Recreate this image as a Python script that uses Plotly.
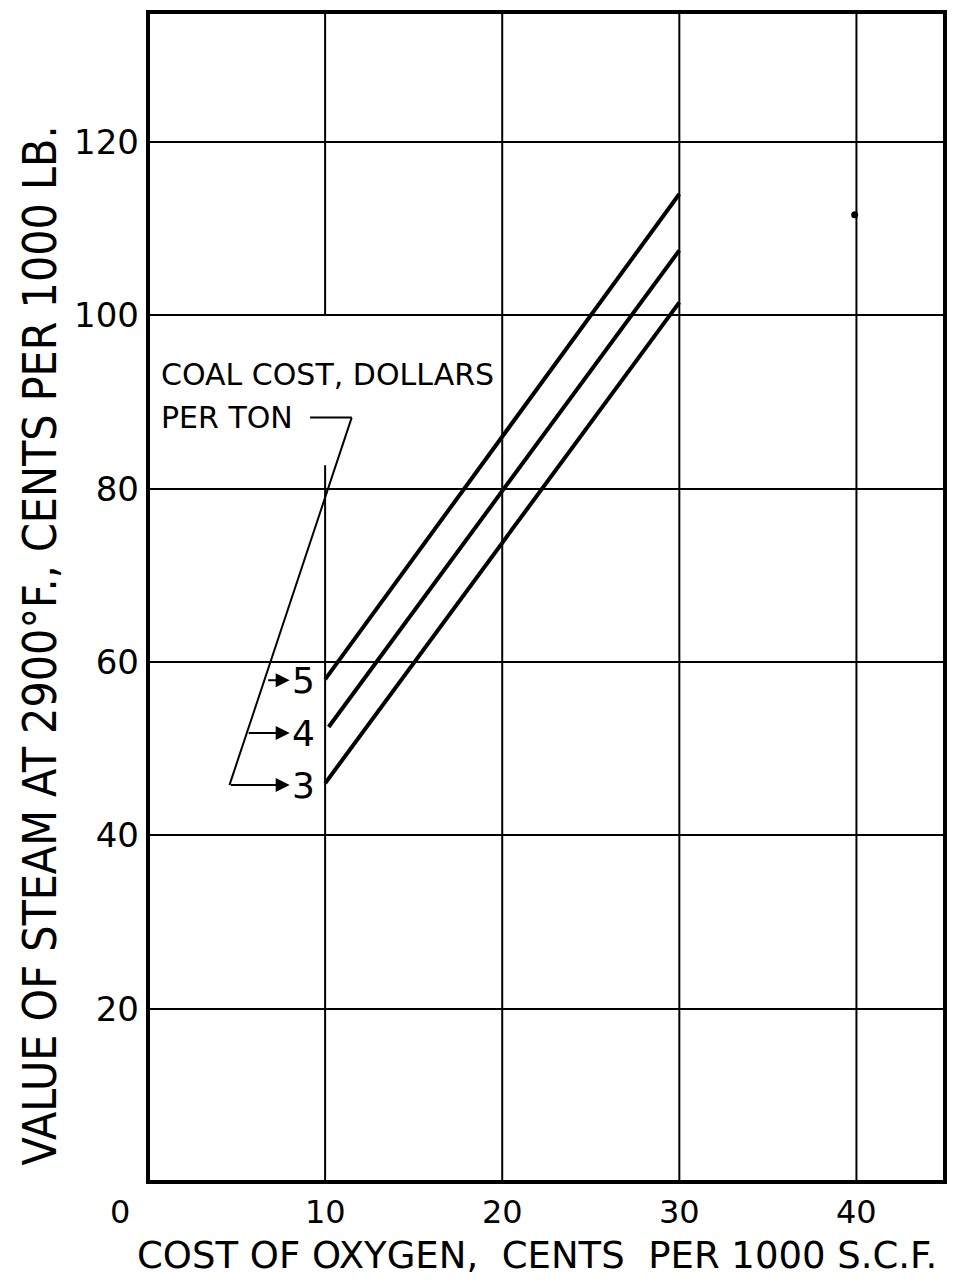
import plotly.graph_objects as go

# Cost of oxygen (cents per 1000 s.c.f.) at the two ends of each line
oxygen_cost_5 = [10.0, 30.0]
oxygen_cost_4 = [10.2, 30.0]
oxygen_cost_3 = [10.0, 30.0]

# Value of steam at 2900 F (cents per 1000 lb) for each coal cost
steam_value_5 = [58.0, 114.0]
steam_value_4 = [52.5, 107.5]
steam_value_3 = [46.0, 101.5]

coal_costs = ["5", "4", "3"]
coal_label_y = [57.9, 51.8, 45.8]
arrow_start_x = [6.7, 5.6, 4.6]

x_ticks = [0, 10, 20, 30, 40]
y_ticks = [20, 40, 60, 80, 100, 120]

# stray dot on the 40 grid line
dot_x = [39.9]
dot_y = [111.6]

X_RANGE = [0, 45]
Y_RANGE = [0, 135]

INK = "black"
FONT = "DejaVu Sans, Liberation Sans, sans-serif"
NARROW = "Liberation Sans Narrow, DejaVu Sans Condensed, Liberation Sans, sans-serif"

fig = go.Figure()

for xs, ys in [(oxygen_cost_5, steam_value_5),
               (oxygen_cost_4, steam_value_4),
               (oxygen_cost_3, steam_value_3)]:
    fig.add_trace(go.Scatter(x=xs, y=ys, mode="lines",
                             line=dict(color=INK, width=4),
                             showlegend=False, hoverinfo="skip"))

fig.add_trace(go.Scatter(x=dot_x, y=dot_y, mode="markers",
                         marker=dict(color=INK, size=7),
                         showlegend=False, hoverinfo="skip"))

shapes = []
# vertical grid lines (the 10 line is broken around the label block)
for xv in x_ticks[2:]:
    shapes.append(dict(type="line", xref="x", yref="y", x0=xv, x1=xv,
                       y0=Y_RANGE[0], y1=Y_RANGE[1], line=dict(color=INK, width=2)))
shapes.append(dict(type="line", xref="x", yref="y", x0=10, x1=10,
                   y0=Y_RANGE[0], y1=82.7, line=dict(color=INK, width=2)))
shapes.append(dict(type="line", xref="x", yref="y", x0=10, x1=10,
                   y0=100, y1=Y_RANGE[1], line=dict(color=INK, width=2)))

# leader from the legend caption down to the arrows
shapes.append(dict(type="line", xref="x", yref="y", x0=9.15, x1=11.5,
                   y0=88.2, y1=88.2, line=dict(color=INK, width=2)))
shapes.append(dict(type="line", xref="x", yref="y", x0=11.5, x1=4.6,
                   y0=88.2, y1=45.8, line=dict(color=INK, width=2)))

# plot frame
shapes.append(dict(type="rect", xref="paper", yref="paper", x0=0, x1=1, y0=0, y1=1,
                   line=dict(color=INK, width=4)))

annotations = []
for lab, yv, xs in zip(coal_costs, coal_label_y, arrow_start_x):
    annotations.append(dict(x=8.0, y=yv, ax=xs, ay=yv, xref="x", yref="y",
                            axref="x", ayref="y", text="", showarrow=True,
                            arrowhead=2, arrowsize=1.4, arrowwidth=2, arrowcolor=INK))
    annotations.append(dict(x=8.0, y=yv, xref="x", yref="y", text=lab,
                            showarrow=False, xanchor="left", yanchor="middle",
                            font=dict(family=FONT, size=36, color=INK)))

annotations.append(dict(x=0.6, y=93.2, xref="x", yref="y", text="COAL COST, DOLLARS",
                        showarrow=False, xanchor="left", yanchor="middle",
                        font=dict(family=FONT, size=30, color=INK)))
annotations.append(dict(x=0.6, y=88.2, xref="x", yref="y", text="PER TON",
                        showarrow=False, xanchor="left", yanchor="middle",
                        font=dict(family=FONT, size=30, color=INK)))

# x tick labels (the zero sits a little left of the frame)
for xv in x_ticks:
    annotations.append(dict(x=xv, y=-0.026, xref="x", yref="paper", text=str(xv),
                            showarrow=False, xanchor="center", yanchor="middle",
                            xshift=-28 if xv == 0 else 0,
                            font=dict(family=FONT, size=32, color=INK)))

annotations.append(dict(x=0.488, y=-0.063, xref="paper", yref="paper",
                        text="COST OF OXYGEN,  CENTS  PER 1000 S.C.F.",
                        showarrow=False, xanchor="center", yanchor="middle",
                        font=dict(family=FONT, size=37, color=INK)))
annotations.append(dict(x=-0.135, y=0.459, xref="paper", yref="paper",
                        text="VALUE OF STEAM AT 2900°F., CENTS PER 1000 LB.",
                        showarrow=False, xanchor="center", yanchor="middle",
                        textangle=-90,
                        font=dict(family=NARROW, size=46, color=INK)))

fig.update_layout(
    width=977, height=1282,
    margin=dict(l=148, r=32, t=12, b=100),
    paper_bgcolor="white", plot_bgcolor="white",
    shapes=shapes, annotations=annotations,
    xaxis=dict(range=X_RANGE, showgrid=False, zeroline=False, showline=False,
               showticklabels=False, ticks=""),
    yaxis=dict(range=Y_RANGE, tickvals=y_ticks, ticktext=[str(v) for v in y_ticks],
               showgrid=True, gridcolor=INK, gridwidth=2, zeroline=False,
               showline=False, ticks="", ticklabelstandoff=8,
               tickfont=dict(family=FONT, size=34, color=INK)),
)

fig.write_html("out.html")
